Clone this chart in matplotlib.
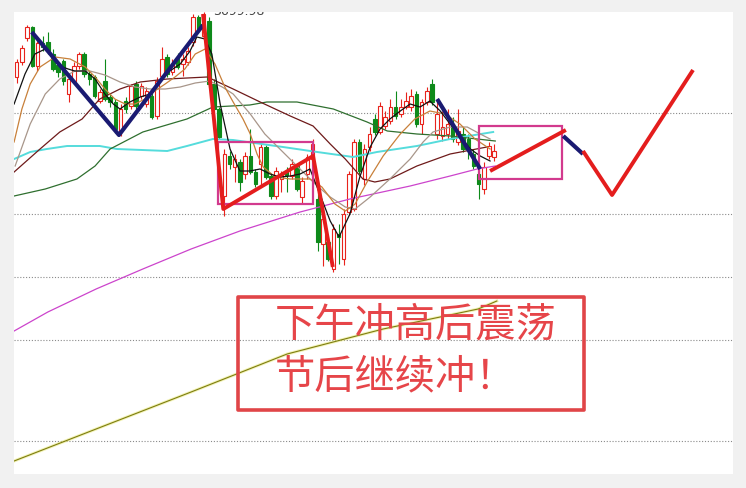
import matplotlib
matplotlib.use("Agg")
import matplotlib.pyplot as plt
import matplotlib.patches as patches

# K线数据（开、收、高、低）
opens = [3636, 3651, 3675, 3686, 3647, 3670, 3671, 3659, 3648, 3652,
         3619, 3632, 3647, 3659, 3639, 3636, 3612, 3632, 3616, 3611,
         3581, 3612, 3607, 3629, 3617, 3609, 3617, 3597, 3637, 3656,
         3641, 3656, 3649, 3651, 3671, 3696, 3677, 3692, 3629, 3604,
         3517, 3557, 3546, 3551, 3539, 3557, 3541, 3549, 3566, 3537,
         3517, 3534, 3542, 3537, 3547, 3516, 3539, 3554, 3514, 3469,
         3471, 3444, 3479, 3454, 3501, 3504, 3571, 3534, 3566, 3594,
         3581, 3587, 3592, 3606, 3599, 3606, 3606, 3619, 3589, 3611,
         3629, 3579, 3577, 3579, 3589, 3571, 3579, 3574, 3559, 3539,
         3524, 3557, 3556]
closes = [3651, 3665, 3686, 3647, 3670, 3666, 3662, 3644, 3641, 3632,
          3634, 3647, 3659, 3639, 3634, 3617, 3621, 3614, 3611, 3584,
          3604, 3604, 3627, 3607, 3627, 3622, 3596, 3632, 3654, 3639,
          3649, 3646, 3654, 3662, 3696, 3684, 3699, 3629, 3604, 3576,
          3559, 3549, 3554, 3531, 3557, 3541, 3529, 3566, 3536, 3517,
          3542, 3538, 3538, 3549, 3524, 3532, 3556, 3569, 3471, 3494,
          3454, 3484, 3476, 3499, 3539, 3571, 3542, 3564, 3579, 3581,
          3607, 3596, 3606, 3597, 3606, 3612, 3617, 3589, 3611, 3622,
          3611, 3599, 3586, 3589, 3574, 3582, 3564, 3564, 3547, 3529,
          3546, 3567, 3562]
highs = [3654, 3668, 3688, 3687, 3672, 3677, 3681, 3664, 3651, 3654,
         3636, 3651, 3661, 3661, 3642, 3638, 3624, 3654, 3619, 3614,
         3609, 3616, 3629, 3632, 3630, 3626, 3621, 3636, 3666, 3659,
         3654, 3660, 3659, 3666, 3699, 3698, 3701, 3696, 3634, 3606,
         3564, 3562, 3559, 3554, 3561, 3584, 3544, 3569, 3568, 3539,
         3546, 3542, 3546, 3554, 3549, 3536, 3559, 3574, 3519, 3499,
         3476, 3489, 3489, 3504, 3542, 3574, 3574, 3569, 3586, 3599,
         3611, 3602, 3614, 3622, 3614, 3621, 3624, 3622, 3614, 3626,
         3634, 3611, 3602, 3604, 3596, 3604, 3586, 3579, 3564, 3549,
         3551, 3571, 3569]
lows = [3630, 3648, 3672, 3646, 3642, 3662, 3659, 3642, 3636, 3628,
        3611, 3629, 3644, 3636, 3628, 3615, 3610, 3612, 3606, 3580,
        3577, 3600, 3604, 3604, 3614, 3606, 3594, 3594, 3634, 3636,
        3638, 3644, 3637, 3648, 3667, 3681, 3674, 3626, 3602, 3574,
        3497, 3544, 3531, 3522, 3534, 3539, 3526, 3527, 3534, 3514,
        3514, 3521, 3521, 3534, 3522, 3509, 3534, 3549, 3462, 3447,
        3452, 3441, 3449, 3448, 3498, 3502, 3539, 3528, 3562, 3578,
        3579, 3584, 3589, 3594, 3596, 3604, 3602, 3586, 3579, 3608,
        3608, 3574, 3572, 3574, 3571, 3568, 3561, 3554, 3544, 3514,
        3519, 3554, 3552]

# 均线（位置为K线序号）
ma5_x = [-0.5, 1.6, 3.5, 5.5, 7.0, 8.3, 9.9, 11.2, 13.2, 15.1, 17.0, 18.6, 19.9,
         21.8, 23.8, 25.7, 27.6, 29.5, 31.5, 33.4, 34.7, 36.3, 37.6, 39.2, 41.1,
         43.0, 44.9, 46.9, 48.8, 50.7, 52.7, 54.6, 56.5, 58.4, 60.4, 62.1, 64.2,
         66.1, 68.1, 70.0, 71.9, 73.9, 75.8, 77.7, 79.6, 81.6, 83.5, 85.4, 87.4,
         89.3, 91.2]
ma5_y = [3609, 3639, 3659, 3664, 3657, 3647, 3644, 3642, 3642, 3634, 3619, 3609,
         3604, 3611, 3616, 3619, 3632, 3642, 3649, 3662, 3676, 3674, 3659, 3609,
         3564, 3542, 3542, 3544, 3539, 3536, 3537, 3539, 3544, 3519, 3492, 3476,
         3499, 3536, 3566, 3584, 3594, 3602, 3609, 3606, 3612, 3602, 3589, 3577,
         3564, 3557, 3552]
ma10_x = [-0.5, 1.0, 2.6, 4.5, 7.4, 10.3, 13.2, 15.1, 17.0, 18.9, 20.9, 22.8,
          24.7, 26.6, 28.6, 30.5, 32.4, 34.4, 36.3, 38.2, 40.1, 41.7, 43.6, 45.0,
          46.3, 47.5, 49.8, 52.7, 56.5, 58.8, 61.3, 63.3, 65.2, 67.5, 70.6, 73.9,
          76.7, 79.6, 82.5, 85.4, 88.3, 91.2]
ma10_y = [3571, 3604, 3629, 3646, 3656, 3654, 3646, 3636, 3624, 3614, 3609, 3609,
          3614, 3622, 3629, 3636, 3644, 3659, 3664, 3649, 3626, 3611, 3594, 3579,
          3559, 3546, 3536, 3534, 3534, 3526, 3509, 3502, 3509, 3531, 3557, 3579,
          3594, 3602, 3599, 3589, 3574, 3564]
ma20_x = [-0.3, 2.6, 5.5, 8.3, 11.2, 14.1, 17.0, 19.9, 22.8, 25.7, 28.6, 31.5,
          34.4, 37.2, 39.6, 41.7, 45.0, 47.8, 50.7, 54.0, 57.5, 60.4, 63.3, 65.2,
          68.1, 71.9, 75.8, 78.3, 80.2, 83.5, 86.8, 89.3, 91.2]
ma20_y = [3547, 3589, 3619, 3634, 3642, 3642, 3638, 3631, 3626, 3624, 3624, 3626,
          3630, 3632, 3626, 3619, 3599, 3579, 3564, 3547, 3529, 3516, 3506, 3504,
          3516, 3534, 3554, 3571, 3581, 3586, 3586, 3579, 3574]
ma30_x = [-0.5, 4.5, 8.3, 12.6, 16.0, 19.9, 23.8, 29.0, 36.7, 41.7, 46.9, 52.7,
          57.1, 60.4, 63.3, 66.7, 69.0, 71.9, 77.1, 83.5, 90.6]
ma30_y = [3541, 3564, 3581, 3594, 3614, 3624, 3631, 3634, 3636, 3624, 3611, 3597,
          3587, 3569, 3554, 3534, 3531, 3534, 3547, 3559, 3566]
ma60_x = [-0.5, 5.5, 11.6, 15.1, 18.0, 24.3, 32.8, 37.8, 44.9, 48.2, 54.0, 61.0,
          67.5, 71.4, 77.1, 83.5, 88.7, 92.2]
ma60_y = [3517, 3524, 3534, 3547, 3564, 3581, 3594, 3606, 3608, 3611, 3611, 3604,
          3591, 3582, 3579, 3577, 3574, 3572]
ma90_x = [-0.5, 2.6, 5.8, 9.7, 16.0, 19.3, 29.0, 32.8, 37.8, 41.7, 51.3, 57.9,
          64.8, 69.4, 77.1, 83.5, 91.8]
ma90_y = [3554, 3561, 3564, 3567, 3567, 3564, 3562, 3567, 3574, 3573, 3566, 3561,
          3556, 3561, 3567, 3574, 3581]
ma120_x = [-0.5, 6.0, 15.3, 24.3, 33.6, 43.0, 54.6, 64.2, 75.8, 83.5, 88.7, 92.2]
ma120_y = [3382, 3401, 3424, 3444, 3464, 3482, 3501, 3514, 3527, 3537, 3544, 3547]
ma250_x = [-0.5, 15.3, 33.6, 52.1, 70.6, 88.9, 92.5]
ma250_y = [3252, 3284, 3321, 3359, 3384, 3404, 3412]

grid_levels = [3600, 3499, 3436, 3373, 3272]

# 手绘标注
blue_paths = [([2.9, 19.7, 35.9], [3681, 3578, 3688]),
              ([81.0, 89.3], [3614, 3544]),
              ([105.3, 109.1], [3577, 3559])]
red_paths = [([35.9, 39.8, 57.1, 60.9], [3699, 3504, 3557, 3446]),
             ([91.2, 105.8], [3542, 3583]),
             ([109.1, 114.7, 130.3], [3562, 3518, 3643])]
boxes = [(38.8, 3509, 57.1, 3571), (89.1, 3534, 105.1, 3587)]
note_lines = ["下午冲高后震荡", "节后继续冲！"]

RED_C = "#e8231c"
GREEN_C = "#0e8a1a"

fig = plt.figure(figsize=(7.46, 4.89), dpi=100)
fig.patch.set_facecolor("#f1f1f1")
ax = fig.add_axes([14 / 746, 14 / 489, 719 / 746, 462 / 489])
ax.set_facecolor("white")
ax.set_xlim(-0.52, 138.0)
ax.set_ylim(3239, 3701)
ax.set_xticks([])
ax.set_yticks([])
for s in ax.spines.values():
    s.set_visible(False)

for lv in grid_levels:
    ax.axhline(lv, color="#8a8a8a", lw=0.8, ls=(0, (1, 1.6)), zorder=1)

# K线
for i, (o, c, h, l) in enumerate(zip(opens, closes, highs, lows)):
    up = c >= o
    col = RED_C if up else GREEN_C
    lo_b, hi_b = min(o, c), max(o, c)
    ax.vlines(i, hi_b, h, color=col, lw=0.8, zorder=2)
    ax.vlines(i, l, lo_b, color=col, lw=0.8, zorder=2)
    ax.add_patch(patches.Rectangle((i - 0.34, lo_b), 0.68, max(hi_b - lo_b, 0.8),
                                   facecolor="white" if up else col,
                                   edgecolor=col, lw=0.8, zorder=3))

# 均线
ax.plot(ma250_x, ma250_y, color="#e8e870", lw=2.2, alpha=0.5, zorder=2)
ax.plot(ma250_x, ma250_y, color="#7d7d10", lw=0.8, zorder=2)
ax.plot(ma120_x, ma120_y, color="#cc44cc", lw=0.9, zorder=4)
ax.plot(ma90_x, ma90_y, color="#55dcdc", lw=1.4, zorder=4)
ax.plot(ma60_x, ma60_y, color="#2f6f2f", lw=0.9, zorder=4)
ax.plot(ma30_x, ma30_y, color="#6e1a1a", lw=0.9, zorder=4)
ax.plot(ma20_x, ma20_y, color="#a8968a", lw=0.9, zorder=4)
ax.plot(ma10_x, ma10_y, color="#c8803a", lw=0.9, zorder=4)
ax.plot(ma5_x, ma5_y, color="#111111", lw=0.9, zorder=4)

# 方框与手绘线
for x0, y0, x1, y1 in boxes:
    ax.add_patch(patches.Rectangle((x0, y0), x1 - x0, y1 - y0, fill=False,
                                   edgecolor="#d23a8e", lw=1.6, zorder=5))
for xs, ys in blue_paths:
    ax.plot(xs, ys, color="#1a1a72", lw=3.0, solid_capstyle="butt", zorder=6)
for xs, ys in red_paths:
    ax.plot(xs, ys, color="#e41d1d", lw=2.8, solid_capstyle="butt", zorder=6)

ax.text(37.8, 3696, "3699.98", fontsize=9, color="#444444",
        ha="left", va="bottom", clip_on=True, zorder=7)

# 文字框
ax.add_patch(patches.Rectangle((42.6, 3303), 66.7, 113, fill=False,
                               edgecolor="#e04548", lw=2.6, joinstyle="round",
                               zorder=7))
ax.text(49.8, 3389, note_lines[0], fontsize=29, color="#e64549",
        family=["Noto Sans CJK SC", "DejaVu Sans"], ha="left", va="center",
        zorder=8)
ax.text(49.8, 3337, note_lines[1], fontsize=29, color="#e64549",
        family=["Noto Sans CJK SC", "DejaVu Sans"], ha="left", va="center",
        zorder=8)

fig.savefig("out.png", dpi=100, facecolor=fig.get_facecolor())
plt.close(fig)
